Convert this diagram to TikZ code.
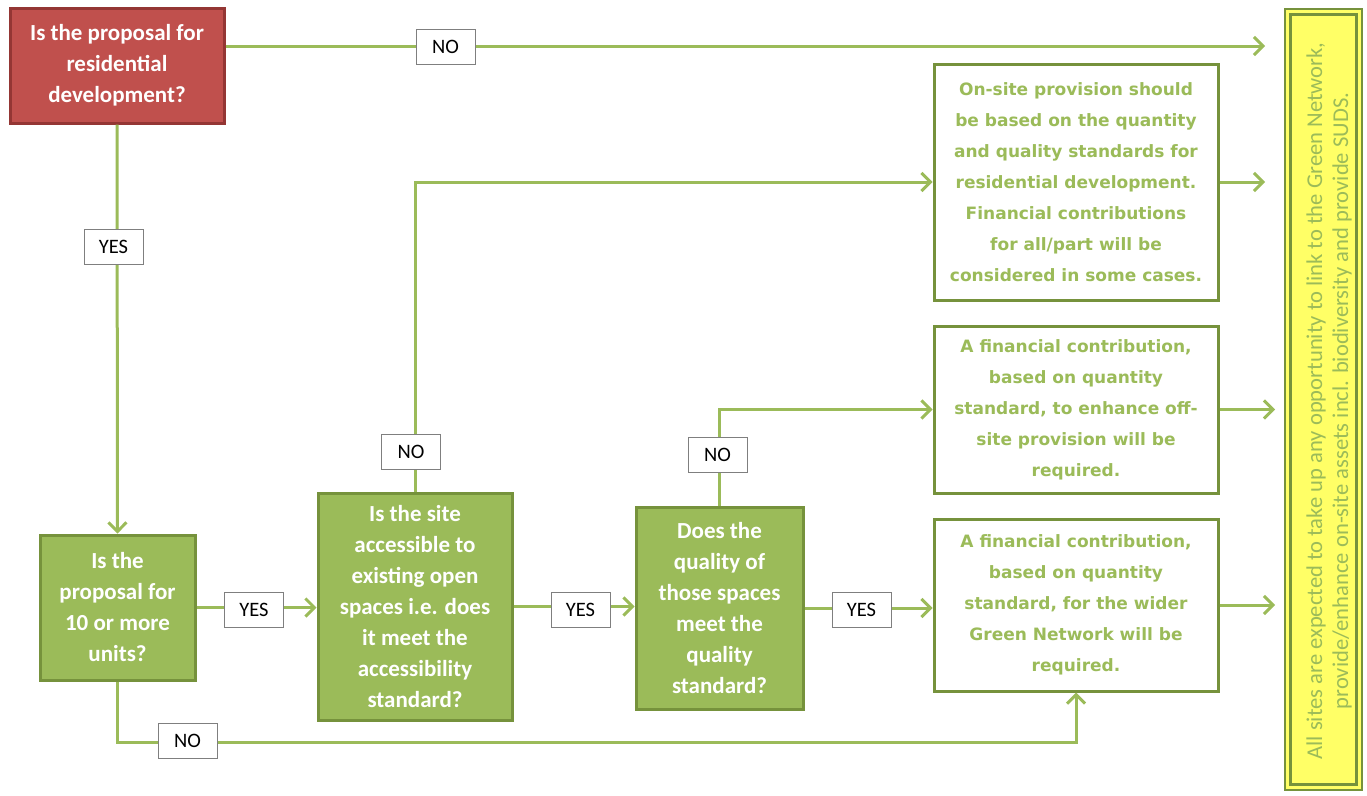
\documentclass[tikz,border=0pt]{standalone}
\usepackage{fontspec}
\setmainfont{Carlito}
\newfontfamily\wfont{DejaVu Sans}
\usetikzlibrary{arrows.meta}
\definecolor{gfill}{HTML}{9BBB59}
\definecolor{gdark}{HTML}{76923C}
\definecolor{rfill}{HTML}{C0504D}
\definecolor{rdark}{HTML}{943634}
\definecolor{yfill}{HTML}{FFFF66}
\definecolor{lblgray}{HTML}{7F7F7F}
\tikzset{
  qbox/.style={draw=gdark, fill=gfill, line width=3pt, inner sep=0pt, align=center,
    text=white, font=\bfseries\fontsize{23}{31}\selectfont},
  rbox/.style={qbox, draw=rdark, fill=rfill},
  abox/.style={draw=gdark, fill=white, line width=3pt, inner sep=0pt, align=center,
    text=gfill, font=\wfont\bfseries\fontsize{17}{31}\selectfont},
  lbl/.style={draw=lblgray, fill=white, line width=1pt, minimum width=59pt, minimum height=35pt,
    inner sep=0pt, font=\fontsize{20.5}{22}\selectfont, text=black},
  conn/.style={draw=gfill, line width=3pt},
  arr/.style={conn, -{Straight Barb[length=9pt,width=18pt,line width=3pt]}},
}
\begin{document}
\begin{tikzpicture}[x=1pt,y=-1pt]
\useasboundingbox (0,0) rectangle (1367,795);
% right box
\path[fill=yfill, draw=gdark, line width=2pt] (1285,9) rectangle (1362,790);
\draw[gdark, line width=2.5pt] (1290.5,14.5) rectangle (1356.5,784.5);
\node[rotate=90, align=center, text=gfill, font=\fontsize{22.6}{26}\selectfont] (side) at (1329,401)
  {All sites are expected to take up any opportunity to link to the Green Network,\\
   provide/enhance on-site assets incl. biodiversity and provide SUDS.};
% boxes
\node[rbox, minimum width=214pt, minimum height=115pt] (red) at (117,65.5)
  {Is the proposal for\\residential\\development?};
\node[qbox, minimum width=155pt, minimum height=145pt] (ten) at (117.5,607.5)
  {Is the\\proposal for\\10 or more\\units?};
\node[qbox, minimum width=194pt, minimum height=227pt] (acc) at (415,606.5)
  {Is the site\\accessible to\\existing open\\spaces i.e. does\\it meet the\\accessibility\\standard?};
\node[qbox, minimum width=167pt, minimum height=202pt] (qual) at (719.5,608)
  {Does the\\quality of\\those spaces\\meet the\\quality\\standard?};
\node[abox, minimum width=284pt, minimum height=236pt] (w1) at (1076,182)
  {On-site provision should\\be based on the quantity\\and quality standards for\\residential development.\\Financial contributions\\for all/part will be\\considered in some cases.};
\node[abox, minimum width=284pt, minimum height=167pt] (w2) at (1076,409.5)
  {A financial contribution,\\based on quantity\\standard, to enhance off-\\site provision will be\\required.};
\node[abox, minimum width=284pt, minimum height=172pt] (w3) at (1076,605)
  {A financial contribution,\\based on quantity\\standard, for the wider\\Green Network will be\\required.};
% free ends
\coordinate (t1) at (1265,46);
\coordinate (e1) at (1265,183);
\coordinate (e2) at (1275,409);
\coordinate (e3) at (1275,606);
\coordinate (nb) at (1076,742);
% connectors
\draw[arr] (red.east |- t1) -- (t1);
\draw[arr] (red.south) -- (ten.north);
\draw[arr] (ten.east) -- (ten.east -| acc.west);
\draw[arr] (acc.north) |- (w1.west);
\draw[arr] (acc.east) -- (acc.east -| qual.west);
\draw[arr] (qual.north) |- (w2.west);
\draw[arr] (qual.east) -- (qual.east -| w3.west);
\draw[arr] (ten.south) |- (nb) -- (w3.south);
\draw[arr] (w1.east) -- (w1.east -| e1);
\draw[arr] (w2.east) -- (w2.east -| e2);
\draw[arr] (w3.east) -- (w3.east -| e3);
% labels
\node[lbl] (l1) at (445.5,47) {NO};
\node[lbl] (l2) at (113.5,247) {YES};
\node[lbl] (l3) at (254,610) {YES};
\node[lbl] (l4) at (411,452) {NO};
\node[lbl] (l5) at (580.5,610) {YES};
\node[lbl] (l6) at (717.5,454.5) {NO};
\node[lbl] (l7) at (861.5,610) {YES};
\node[lbl] (l8) at (187.5,741) {NO};
\end{tikzpicture}
\end{document}
